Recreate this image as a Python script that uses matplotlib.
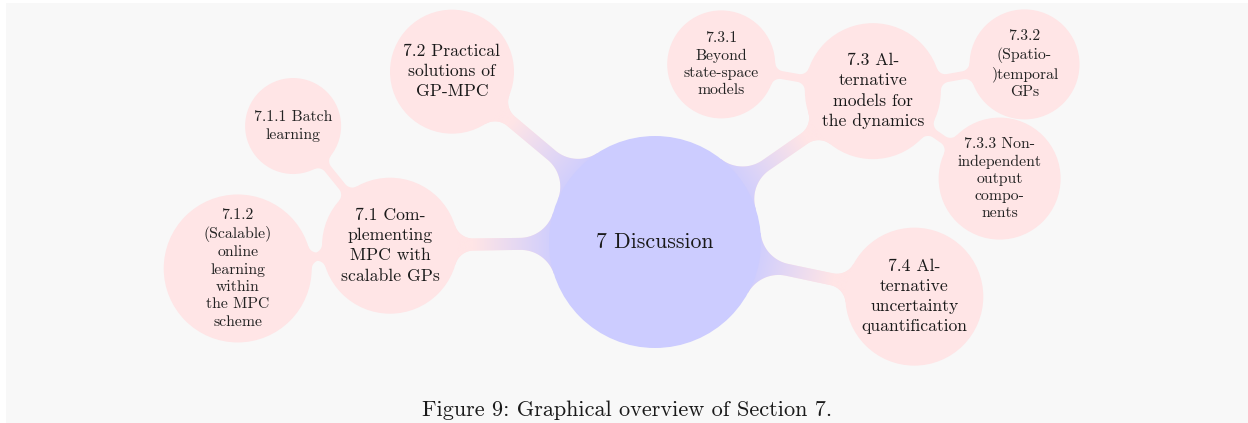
import numpy as np
import matplotlib
matplotlib.use('Agg')
import matplotlib.pyplot as plt
from matplotlib.patches import Circle, Polygon, Rectangle

# mind map content
root_label = '7 Discussion'
child_labels = ['7.1 Com-\nplementing\nMPC with\nscalable GPs',
                '7.2 Practical\nsolutions of\nGP-MPC',
                '7.3 Al-\nternative\nmodels for\nthe dynamics',
                '7.4 Al-\nternative\nuncertainty\nquantification']
grandchild_labels = ['7.1.1 Batch\nlearning',
                     '7.1.2\n(Scalable)\nonline\nlearning\nwithin\nthe MPC\nscheme',
                     '7.3.1\nBeyond\nstate-space\nmodels',
                     '7.3.2\n(Spatio-\n)temporal\nGPs',
                     '7.3.3 Non-\nindependent\noutput\ncompo-\nnents']
grandchild_parent = [0, 0, 2, 2, 2]
caption = 'Figure 9: Graphical overview of Section 7.'

# layout (pixels, y down)
root_xy = np.array([655.0, 242.0])
root_r = 106
child_dist = 265
child_angles = [180.8, 140.0, 34.7, -11.9]
child_r = [68, 62, 68, 69]
gc_dist = 154
gc_angles = [129.0, 188.5, 170.0, 10.0, -34.6]
gc_r = [48, 74, 54, 55, 61]

BLUE = np.array([204, 204, 255]) / 255
PINK = np.array([255, 229, 230]) / 255
BG = '#f8f8f8'
FONT = 'cmr10'


def polar(c, d, ang):
    a = np.radians(ang)
    return c + d * np.array([np.cos(a), -np.sin(a)])


def fillet_profile(xs, r, w, rho):
    # half width of a bar of half width w filleted into a circle of radius r at x=0
    xf = np.sqrt((r + rho) ** 2 - (w + rho) ** 2)
    px = r * xf / (r + rho)
    py = r * (w + rho) / (r + rho)
    y = np.zeros_like(xs)
    inside = xs < px
    y[inside] = py
    arc = (xs >= px) & (xs <= xf)
    y[arc] = w + rho - np.sqrt(np.clip(rho ** 2 - (xs[arc] - xf) ** 2, 0, None))
    return y


def bar_polygon(c1, r1, c2, r2, w, rho1, rho2):
    d = np.linalg.norm(c2 - c1)
    u = (c2 - c1) / d
    n = np.array([-u[1], u[0]])
    xs = np.linspace(0, d, 400)
    y = np.maximum(w, np.maximum(fillet_profile(xs, r1, w, rho1),
                                 fillet_profile(d - xs, r2, w, rho2)))
    top = c1 + xs[:, None] * u + y[:, None] * n
    bot = c1 + xs[:, None] * u - y[:, None] * n
    return np.vstack([top, bot[::-1]]), u, d - r1 - r2


def draw_bar(ax, c1, r1, col1, c2, r2, col2, w, rho1, rho2):
    pts, u, gap = bar_polygon(c1, r1, c2, r2, w, rho1, rho2)
    patch = Polygon(pts, closed=True, facecolor=col2, edgecolor='none', zorder=1)
    ax.add_patch(patch)
    if np.allclose(col1, col2):
        return
    x0, y0 = pts.min(axis=0)
    x1, y1 = pts.max(axis=0)
    xs = np.linspace(x0, x1, 300)
    ys = np.linspace(y0, y1, 300)
    X, Y = np.meshgrid(xs, ys)
    proj = (X - c1[0]) * u[0] + (Y - c1[1]) * u[1]
    t = np.clip((proj - r1 + 10) / (gap - 5), 0, 1)[..., None]
    img = (1 - t) * col1 + t * col2
    im = ax.imshow(img, extent=(x0, x1, y0, y1), origin='lower', zorder=1.1,
                   interpolation='bilinear')
    im.set_clip_path(patch)


fig = plt.figure(figsize=(12.48, 4.23), dpi=100, facecolor='white')
ax = fig.add_axes([0, 0, 1, 1])
ax.set_xlim(0, 1248)
ax.set_ylim(423, 0)
ax.axis('off')
ax.add_patch(Rectangle((6, 3), 1248, 423, facecolor=BG, edgecolor='none', zorder=0))

child_xy = [polar(root_xy, child_dist, a) for a in child_angles]
gc_xy = [polar(child_xy[p], gc_dist, a) for p, a in zip(grandchild_parent, gc_angles)]

for cxy, cr in zip(child_xy, child_r):
    draw_bar(ax, root_xy, root_r, BLUE, cxy, cr, PINK, 6, 35, 19)
for gxy, gr, p in zip(gc_xy, gc_r, grandchild_parent):
    draw_bar(ax, child_xy[p], child_r[p], PINK, gxy, gr, PINK, 4, 9, 9)

ax.add_patch(Circle(root_xy, root_r, facecolor=BLUE, edgecolor='none', zorder=2))
ax.text(root_xy[0], root_xy[1], root_label, ha='center', va='center',
        fontsize=15.7, family=FONT, color='#1a1a1a', zorder=3)

for cxy, cr, lab in zip(child_xy, child_r, child_labels):
    ax.add_patch(Circle(cxy, cr, facecolor=PINK, edgecolor='none', zorder=2))
    ax.text(cxy[0], cxy[1], lab, ha='center', va='center', fontsize=12.7,
            family=FONT, color='#1a1a1a', linespacing=1.39, zorder=3)

for gxy, gr, lab in zip(gc_xy, gc_r, grandchild_labels):
    ax.add_patch(Circle(gxy, gr, facecolor=PINK, edgecolor='none', zorder=2))
    ax.text(gxy[0], gxy[1], lab, ha='center', va='center', fontsize=11.3,
            family=FONT, color='#222222', linespacing=1.33, zorder=3)

ax.text(627, 410, caption, ha='center', va='center', fontsize=16,
        family=FONT, color='#1a1a1a')

fig.savefig('out.png', dpi=100, facecolor='white')
